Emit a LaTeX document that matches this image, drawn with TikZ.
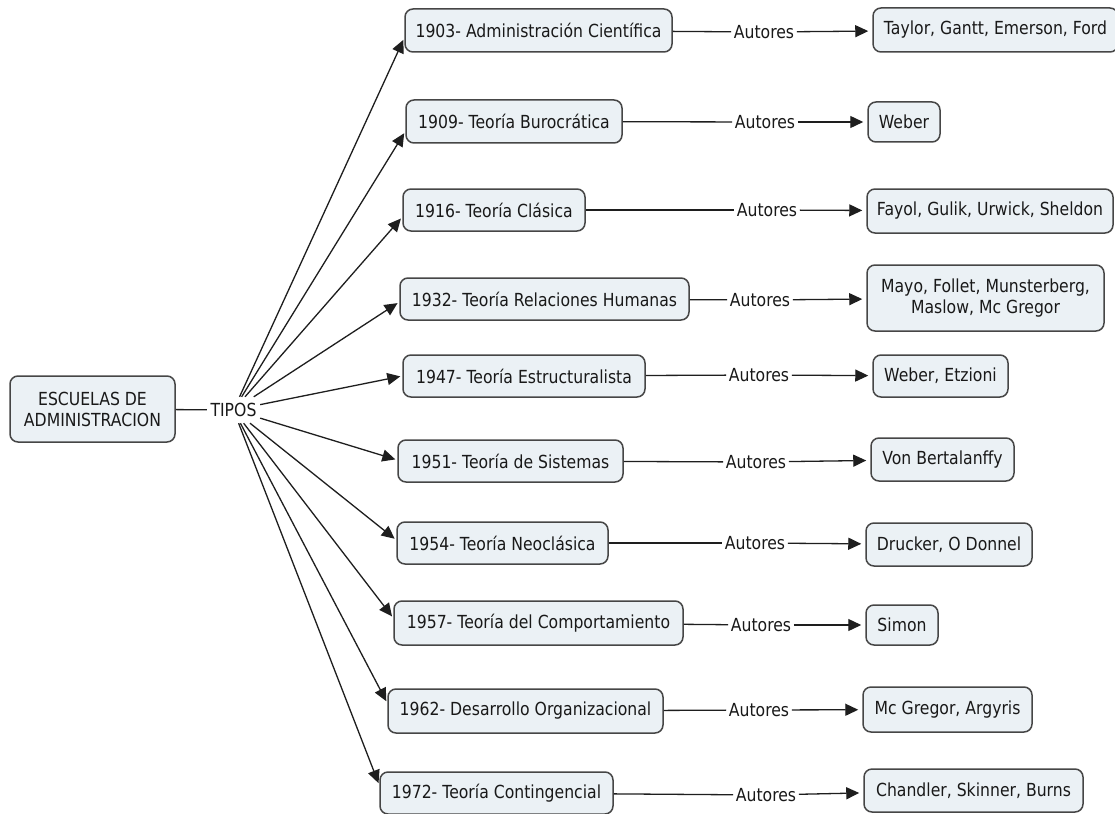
\documentclass[tikz,border=0pt]{standalone}
\usepackage{fontspec}
\setmainfont[FakeStretch=0.87]{DejaVu Sans}
\usetikzlibrary{arrows.meta}
\definecolor{boxfill}{RGB}{235,241,245}
\definecolor{boxline}{RGB}{70,70,70}
\definecolor{txt}{RGB}{25,25,25}
\definecolor{conn}{RGB}{30,30,30}
\begin{document}
\begin{tikzpicture}[x=1pt,y=-1pt,
  concept/.style={draw=boxline, line width=1.5pt, fill=boxfill, rounded corners=8pt,
    inner sep=0pt, align=center, text=txt, font=\fontsize{18}{21}\selectfont},
  lbl/.style={inner sep=2.5pt, text=txt, font=\fontsize{18}{21}\selectfont},
  link/.style={draw=conn, line width=1.3pt},
  arr/.style={link, -{Triangle[length=13pt,width=12pt]}, shorten >=2pt}]
\useasboundingbox (0,0) rectangle (1115,813);
\fill[white] (0,0) rectangle (1115,813);

% root
\node[concept, minimum width=165pt, minimum height=66pt] (root) at (92.5,409) {ESCUELAS DE\\ADMINISTRACION};
\node[lbl, inner xsep=3.5pt, inner ysep=0pt, minimum height=26pt] (tipos) at (233.5,410) {TIPOS};
\draw[link] (root) -- (tipos);

% schools
\node[concept, minimum width=267pt, minimum height=43pt] (r1) at (538.5,30.5) {1903- Administración Científica};
\node[concept, minimum width=216pt, minimum height=43pt] (r2) at (514,121.5) {1909- Teoría Burocrática};
\node[concept, minimum width=182pt, minimum height=42pt] (r3) at (494,210) {1916- Teoría Clásica};
\node[concept, minimum width=289pt, minimum height=42pt] (r4) at (544.5,299) {1932- Teoría Relaciones Humanas};
\node[concept, minimum width=242pt, minimum height=42pt] (r5) at (524,376) {1947- Teoría Estructuralista};
\node[concept, minimum width=225pt, minimum height=42pt] (r6) at (510.5,461) {1951- Teoría de Sistemas};
\node[concept, minimum width=211pt, minimum height=42pt] (r7) at (502.5,543) {1954- Teoría Neoclásica};
\node[concept, minimum width=289pt, minimum height=44pt] (r8) at (538.5,623) {1957- Teoría del Comportamiento};
\node[concept, minimum width=275pt, minimum height=44pt] (r9) at (525.5,711) {1962- Desarrollo Organizacional};
\node[concept, minimum width=233pt, minimum height=42pt] (r10) at (496.5,793) {1972- Teoría Contingencial};

% fan arrows
\draw[arr] (tipos) -- ([yshift=-7.5pt]r1.west);
\draw[arr] (tipos) -- ([yshift=-10pt]r2.west);
\draw[arr] (tipos) -- ([yshift=-7pt]r3.west);
\draw[arr] (tipos) -- ([yshift=-3pt]r4.west);
\draw[arr] (tipos) -- (r5.west);
\draw[arr] (tipos) -- ([yshift=1pt]r6.west);
\draw[arr] (tipos) -- ([yshift=3pt]r7.west);
\draw[arr] (tipos) -- ([yshift=5pt]r8.west);
\draw[arr] (tipos) -- ([yshift=8pt]r9.west);
\draw[arr] (tipos) -- ([yshift=8pt]r10.west);

% Autores labels
\node[lbl] (u1) at (764,32) {Autores};
\node[lbl] (u2) at (765,122) {Autores};
\node[lbl] (u3) at (767,210) {Autores};
\node[lbl] (u4) at (760,300) {Autores};
\node[lbl] (u5) at (759,375) {Autores};
\node[lbl] (u6) at (756,462) {Autores};
\node[lbl] (u7) at (755,543) {Autores};
\node[lbl] (u8) at (761,625) {Autores};
\node[lbl] (u9) at (759,710) {Autores};
\node[lbl] (u10) at (766,795) {Autores};

% authors
\node[concept, minimum width=245pt, minimum height=44pt] (a1) at (995.5,30) {Taylor, Gantt, Emerson, Ford};
\node[concept, minimum width=72pt, minimum height=40pt] (a2) at (904,122) {Weber};
\node[concept, minimum width=246pt, minimum height=44pt] (a3) at (990,211) {Fayol, Gulik, Urwick, Sheldon};
\node[concept, minimum width=237pt, minimum height=66pt] (a4) at (985.5,298) {Mayo, Follet, Munsterberg,\\Maslow, Mc Gregor};
\node[concept, minimum width=135pt, minimum height=42pt] (a5) at (940.5,376) {Weber, Etzioni};
\node[concept, minimum width=143pt, minimum height=43pt] (a6) at (942.5,459.5) {Von Bertalanffy};
\node[concept, minimum width=166pt, minimum height=43pt] (a7) at (949,544.5) {Drucker, O Donnel};
\node[concept, minimum width=72pt, minimum height=40pt] (a8) at (902,625) {Simon};
\node[concept, minimum width=169pt, minimum height=45pt] (a9) at (947.5,709.5) {Mc Gregor, Argyris};
\node[concept, minimum width=219pt, minimum height=43pt] (a10) at (973.5,790.5) {Chandler, Skinner, Burns};

% links school -> Autores -> authors
\foreach \i in {1,...,10}{
  \draw[link] (r\i) -- (u\i);
  \draw[arr, shorten >=4pt] (u\i) -- (a\i);
}
\end{tikzpicture}
\end{document}
